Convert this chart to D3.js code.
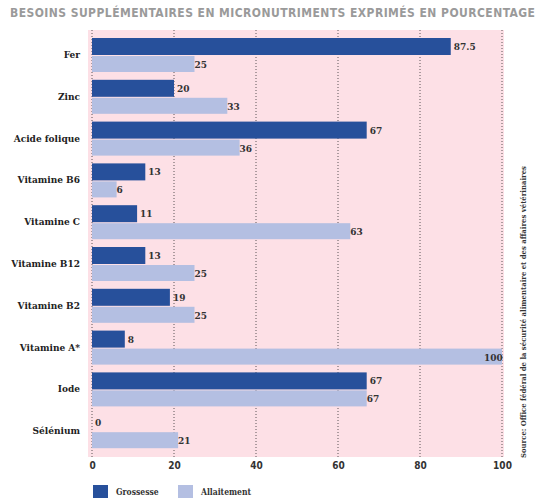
<!DOCTYPE html>
<html><head><meta charset="utf-8">
<script src="https://cdn.jsdelivr.net/npm/d3@7"></script>
<style>body{margin:0;background:#fff}text{font-family:"DejaVu Serif Condensed","DejaVu Serif",serif;font-weight:bold}</style>
</head><body>
<script>
// donnees
var nutriments = ["Fer","Zinc","Acide folique","Vitamine B6","Vitamine C","Vitamine B12","Vitamine B2","Vitamine A*","Iode","Sélénium"];
var grossesse = [87.5,20,67,13,11,13,19,8,67,0];
var allaitement = [25,33,36,6,63,25,25,100,67,21];
var ticks = [0,20,40,60,80,100];
var labelsVal = function(v){ return v == 87.5 ? "87.5" : String(v); };

var svg = d3.select("body").append("svg").attr("width",545).attr("height",501);

svg.append("text").attr("x",10).attr("y",17)
   .style("font-family","'DejaVu Sans Condensed',sans-serif").style("font-size","12px")
   .attr("textLength",525).attr("lengthAdjust","spacing").attr("fill","#9a9a9a")
   .text("BESOINS SUPPLÉMENTAIRES EN MICRONUTRIMENTS EXPRIMÉS EN POURCENTAGE");

var x = d3.scaleLinear().domain([0,100]).range([92,502]);
var y = d3.scaleBand().domain(nutriments).range([34,452]);

svg.append("rect").attr("x",88).attr("y",30).attr("width",416).attr("height",427).attr("fill","#fde0e6");

svg.selectAll(".grid").data(ticks).enter().append("line")
   .attr("x1",d=>x(d)).attr("x2",d=>x(d)).attr("y1",30).attr("y2",457)
   .attr("stroke","#333").attr("stroke-width",0.8).attr("stroke-dasharray","1,2");

var g = svg.append("g");
g.selectAll(".g").data(nutriments).enter().append("rect")
   .attr("x",x(0)).attr("y",d=>y(d)+4).attr("height",17)
   .attr("width",(d,i)=>x(grossesse[i])-x(0)).attr("fill","#27509b");
g.selectAll(".a").data(nutriments).enter().append("rect")
   .attr("x",x(0)).attr("y",d=>y(d)+22).attr("height",16)
   .attr("width",(d,i)=>x(allaitement[i])-x(0)).attr("fill","#b4bfe2");

g.selectAll(".gl").data(nutriments).enter().append("text")
   .attr("x",(d,i)=>x(grossesse[i])+3).attr("y",d=>y(d)+16)
   .style("font-size","10px").attr("fill","#333").text((d,i)=>labelsVal(grossesse[i]));
g.selectAll(".al").data(nutriments).enter().append("text")
   .attr("x",(d,i)=>Math.min(x(allaitement[i])+3,x(allaitement[i])-18*(allaitement[i]==100))).attr("y",d=>y(d)+34)
   .style("font-size","10px").attr("fill","#333").text((d,i)=>labelsVal(allaitement[i]));

g.selectAll(".cat").data(nutriments).enter().append("text")
   .attr("x",80).attr("y",d=>y(d)+y.bandwidth()/2+3).attr("text-anchor","end")
   .style("font-size","10px").attr("fill","#222").text(d=>d);

var axis = d3.axisBottom(x).tickValues(ticks).tickSize(0).tickPadding(0);
var ax = svg.append("g").attr("transform","translate(0,460)").call(axis);
ax.select(".domain").remove();
ax.selectAll("text").style("font-size","10px").attr("fill","#333").attr("dy","0.9em")
  .style("font-family","'DejaVu Sans Condensed',sans-serif");

var legend = [["Grossesse","#27509b",93],["Allaitement","#b4bfe2",178]];
legend.forEach(function(l){
  svg.append("rect").attr("x",l[2]).attr("y",485).attr("width",15).attr("height",13).attr("fill",l[1]);
  svg.append("text").attr("x",l[2]+23).attr("y",495).style("font-size","8.5px").attr("fill","#333").text(l[0]);
});

svg.append("text").attr("transform","translate(526,458) rotate(-90)")
   .style("font-size","8px").attr("fill","#333").attr("textLength",292).attr("lengthAdjust","spacingAndGlyphs")
   .text("Source: Office fédéral de la sécurité alimentaire et des affaires vétérinaires");
</script>
</body></html>
